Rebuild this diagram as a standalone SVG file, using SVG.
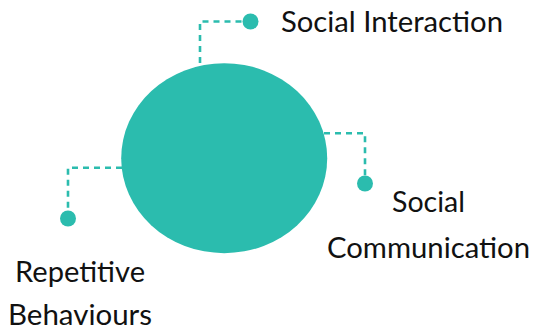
<svg xmlns="http://www.w3.org/2000/svg" width="533" height="335" viewBox="0 0 533 335">
<style>
.c{fill:none;stroke:#2bbcae;stroke-width:2.6;stroke-dasharray:6 5}
.d{fill:#2bbcae}
.t{font-family:Lato,"Open Sans",sans-serif;font-size:29px;fill:#111}
</style>
<rect width="533" height="335" fill="#fff"/>
<g id="connectors">
<path class="c" d="M200,63 V21.5 H250"/>
<path class="c" d="M324,133.3 H365 V183"/>
<path class="c" d="M122,167.7 H68 V218"/>
</g>
<g id="center">
<ellipse class="d" cx="224.2" cy="158.2" rx="103" ry="95"/>
</g>
<g id="social-interaction">
<circle class="d" cx="250.5" cy="21.5" r="8"/>
<text class="t" x="281" y="31.5" textLength="222" lengthAdjust="spacingAndGlyphs">Social Interaction</text>
</g>
<g id="social-communication">
<circle class="d" cx="365" cy="183.5" r="8"/>
<text class="t" x="392" y="212" textLength="73" lengthAdjust="spacingAndGlyphs">Social</text>
<text class="t" x="327" y="258" textLength="203" lengthAdjust="spacingAndGlyphs">Communication</text>
</g>
<g id="repetitive-behaviours">
<circle class="d" cx="68" cy="218.5" r="8"/>
<text class="t" x="15" y="282" textLength="130" lengthAdjust="spacingAndGlyphs">Repetitive</text>
<text class="t" x="8" y="325" textLength="144" lengthAdjust="spacingAndGlyphs">Behaviours</text>
</g>
</svg>
